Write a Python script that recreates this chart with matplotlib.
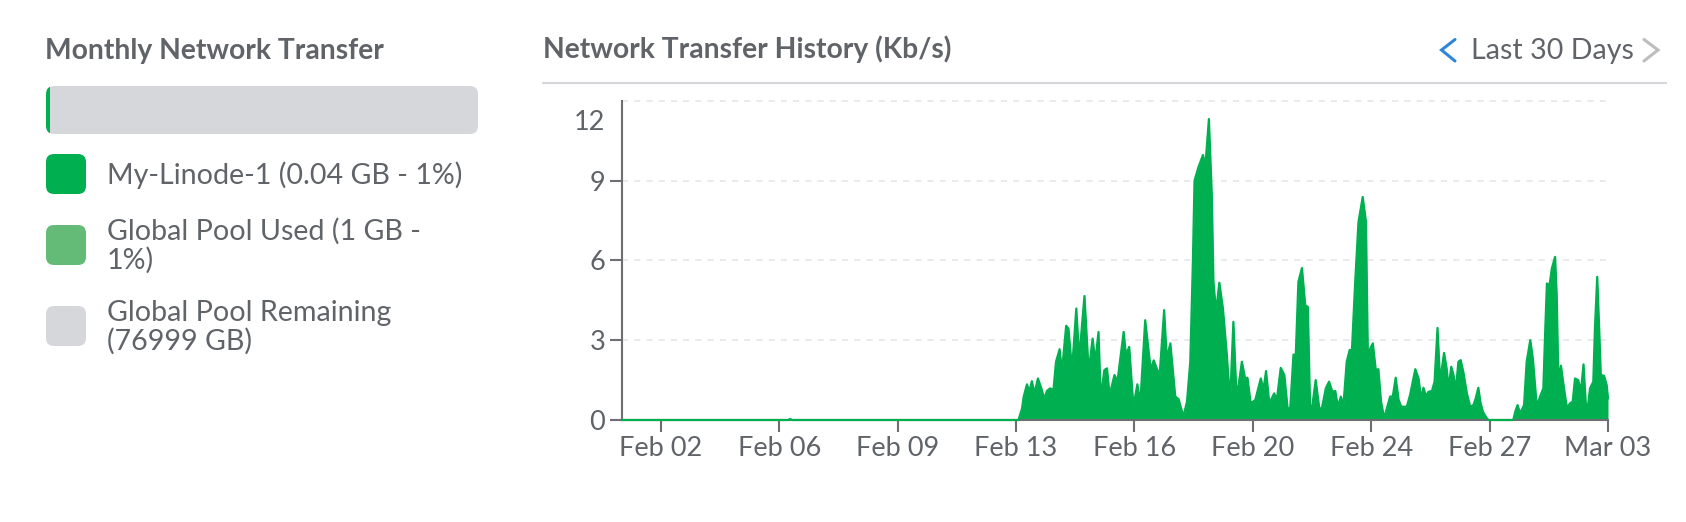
import numpy as np
import matplotlib
matplotlib.use("Agg")
import matplotlib.pyplot as plt
from matplotlib.patches import FancyBboxPatch
from matplotlib.transforms import ScaledTranslation

plt.rcParams['font.family'] = ['Lato', 'DejaVu Sans']

# ---- data -------------------------------------------------------------
# day of month (Feb; Mar 01 = 29) and transfer rate in Kb/s
day_idle = [0.81, 5.90, 5.96, 6.02, 12.95]
kbps_idle = [0, 0, 0.04, 0, 0]

day_a = [13.06, 13.11, 13.21, 13.28, 13.36, 13.44, 13.545, 13.65, 13.74, 13.82,
         13.92, 14.02, 14.10, 14.21, 14.28, 14.41, 14.48, 14.59, 14.72, 14.81,
         14.97, 15.10, 15.22, 15.30, 15.40, 15.47, 15.58, 15.66, 15.74, 15.89,
         15.98, 16.17, 16.24, 16.34, 16.47, 16.59, 16.68, 16.83, 17.00]
kbps_a = [0.44, 0.88, 1.34, 1.06, 1.46, 1.0, 1.56, 1.19, 0.79, 1.09,
          1.19, 1.12, 2.19, 2.66, 1.81, 3.54, 3.44, 1.88, 4.19, 2.31,
          4.66, 1.81, 3.06, 2.19, 3.31, 0.81, 1.88, 1.94, 0.94, 1.69,
          1.44, 3.31, 2.44, 2.75, 0.5, 1.34, 0.63, 3.75, 1.88]

day_b = [17.09, 17.27, 17.41, 17.49, 17.60, 17.75, 17.85, 18.00, 18.11, 18.21,
         18.29, 18.34, 18.46, 18.60, 18.67, 18.78, 18.87, 18.92, 19.00, 19.10,
         19.21, 19.33, 19.43, 19.53, 19.62, 19.69, 19.79, 19.89, 19.96, 20.06,
         20.20, 20.37, 20.45, 20.53, 20.63, 20.78, 20.86, 20.98, 21.09, 21.19,
         21.27, 21.37, 21.44]
kbps_b = [2.24, 1.66, 4.13, 2.31, 2.88, 0.88, 0.79, 0.13, 0.69, 2.19,
          5.94, 9.0, 9.5, 9.96, 9.5, 11.31, 8.44, 5.19, 4.06, 5.16,
          4.19, 2.44, 0.69, 3.69, 1.06, 1.31, 2.19, 1.56, 1.59, 0.63,
          0.75, 1.56, 1.13, 1.84, 0.63, 1.0, 0.75, 1.96, 1.69, 0.44,
          0.44, 2.46, 2.44]

day_c = [21.52, 21.63, 21.73, 21.81, 21.88, 21.95, 22.05, 22.16, 22.24, 22.36,
         22.46, 22.56, 22.65, 22.73, 22.82, 22.90, 23.00, 23.09, 23.16, 23.26,
         23.36, 23.49, 23.59, 23.65, 23.72, 23.80, 23.89, 23.97, 24.05, 24.15,
         24.23, 24.33, 24.41, 24.50, 24.59, 24.67, 24.84, 24.94, 25.10, 25.20,
         25.28, 25.35, 25.43, 25.50, 25.61, 25.69, 25.78, 25.86]
kbps_c = [5.19, 5.71, 4.31, 4.25, 0.38, 0.56, 1.5, 0.44, 0.44, 1.19,
          1.44, 1.06, 1.09, 0.5, 0.88, 0.56, 2.19, 2.63, 2.63, 5.19,
          7.44, 8.38, 7.44, 2.19, 2.69, 2.88, 1.88, 1.91, 0.69, 0.06,
          0.44, 0.88, 0.88, 1.59, 0.75, 0.5, 0.5, 0.94, 1.91, 1.56,
          0.79, 1.21, 0.88, 1.06, 1.09, 1.44, 3.46, 1.44]

day_d = [25.98, 26.06, 26.12, 26.20, 26.27, 26.34, 26.42, 26.49, 26.57, 26.68,
         26.78, 26.88, 26.95, 27.03, 27.10, 27.17, 27.29, 27.34, 28.10, 28.16,
         28.23, 28.31, 28.43, 28.51, 28.62, 28.70, 28.82, 28.92, 29.02, 29.08,
         29.13, 29.21, 29.28, 29.38, 29.43, 29.48, 29.56, 29.64, 29.74, 29.84,
         29.92, 29.99, 30.09, 30.17, 30.25, 30.32, 30.38, 30.45, 30.55, 30.60,
         30.67, 30.73, 30.78, 30.88, 30.96, 31.00]
kbps_d = [2.52, 1.94, 1.19, 2.0, 1.69, 1.13, 2.19, 2.25, 1.81, 1.0,
          0.5, 0.56, 0.81, 1.21, 0.63, 0.31, 0.06, 0, 0, 0.31,
          0.56, 0.25, 0.56, 2.19, 3.0, 2.31, 0.5, 0.88, 1.19, 3.44,
          5.13, 5.06, 5.69, 6.13, 4.69, 1.56, 2.04, 1.31, 0.46, 0.63,
          0.69, 1.56, 1.5, 1.06, 2.09, 0.63, 0.44, 1.19, 1.44, 3.44,
          5.38, 3.44, 1.69, 1.66, 1.31, 0.81]

day = np.array(day_idle + day_a + day_b + day_c + day_d)
kbps = np.array(kbps_idle + kbps_a + kbps_b + kbps_c + kbps_d)

x_labels = ['Feb 02', 'Feb 06', 'Feb 09', 'Feb 13', 'Feb 16',
            'Feb 20', 'Feb 24', 'Feb 27', 'Mar 03']
y_ticks = [0, 3, 6, 9, 12]

legend_labels = ['My-Linode-1 (0.04 GB - 1%)',
                 'Global Pool Used (1 GB -\n1%)',
                 'Global Pool Remaining\n(76999 GB)']
used_pct = 1

# ---- style ------------------------------------------------------------
GREEN = '#00b050'
GREEN_LIGHT = '#63bb77'
GREY_BAR = '#d6d7db'
TEXT = '#606469'
AXIS = '#6e6e73'
GRID = '#e3e4e8'

W, H = 1686, 522
fig = plt.figure(figsize=(W / 100, H / 100), dpi=100)
fig.patch.set_facecolor('white')

# pixel-space overlay for titles and legend
ax0 = fig.add_axes([0, 0, 1, 1])
ax0.set_xlim(0, W)
ax0.set_ylim(H, 0)
ax0.axis('off')

ax0.text(45, 59, 'Monthly Network Transfer', fontsize=20.3, fontweight='bold',
         color=TEXT, va='baseline')
ax0.text(543, 58, 'Network Transfer History (Kb/s)', fontsize=20.3,
         fontweight='bold', color=TEXT, va='baseline')
ax0.text(1471, 59, 'Last 30 Days', fontsize=20.6, color=TEXT, va='baseline')
ax0.plot([1455, 1441.5, 1455], [39.5, 50, 61], color='#2f86d8', lw=2.2,
         solid_capstyle='round', solid_joinstyle='miter')
ax0.plot([1644, 1658, 1644], [39.5, 50, 61], color='#bdbdbd', lw=2.2,
         solid_capstyle='round', solid_joinstyle='miter')
ax0.hlines(82.5, 542, 1667, color=GREY_BAR, lw=1.5)

# legend swatches
sw_colors = [GREEN, GREEN_LIGHT, GREY_BAR]
sw_tops = [154, 225, 306]
for lab, col, top in zip(legend_labels, sw_colors, sw_tops):
    ax0.add_patch(FancyBboxPatch((46, top), 40, 40,
                                 boxstyle='round,pad=0,rounding_size=8',
                                 fc=col, ec='none'))
    ax0.text(107, top + 21, lab, fontsize=20.6, color=TEXT, va='center',
             linespacing=1.08)

# usage bar
axb = fig.add_axes([46 / W, (H - 134) / H, 432 / W, 48 / H])
axb.set_xlim(0, 100)
axb.set_ylim(0, 1)
axb.axis('off')
bg = FancyBboxPatch((0, 0), 100, 1, boxstyle='round,pad=0,rounding_size=1.9',
                    mutation_aspect=4.32 / 48, fc=GREY_BAR, ec='none')
axb.add_patch(bg)
bars = axb.barh(0.5, used_pct, height=1, left=0, color=GREEN)
for b in bars:
    b.set_clip_path(bg)

# ---- history chart ----------------------------------------------------
ax = fig.add_axes([622 / W, (H - 420) / H, (1608 - 622) / W, (420 - 100.7) / H])
ax.fill_between(day, kbps, color=GREEN, lw=0)
ax.plot(day, kbps, color=GREEN, lw=1.6, clip_on=False, zorder=3)
ax.set_xlim(0.81, 31)
ax.set_ylim(0, 12)

for yv in y_ticks[1:]:
    ax.axhline(yv, color=GRID, lw=1.1, ls=(0, (4, 4)), zorder=0, clip_on=False)

for s in ['top', 'right']:
    ax.spines[s].set_visible(False)
for s in ['left', 'bottom']:
    ax.spines[s].set_color(AXIS)
    ax.spines[s].set_linewidth(1.5)

ax.set_xticks(np.linspace(2, 31, len(x_labels)))
ax.set_xticklabels(x_labels)
ax.set_yticks(y_ticks)
ax.set_yticklabels([str(v) for v in y_ticks])
ax.tick_params(axis='both', colors=AXIS, labelcolor=TEXT, labelsize=19.5,
               length=8.5, width=1.5)
ax.tick_params(axis='y', pad=3.5)
ax.tick_params(axis='x', pad=3)

top_tick = ax.yaxis.get_major_ticks()[-1]
top_tick.tick1line.set_visible(False)
top_tick.label1.set_va('top')
top_tick.label1.set_transform(top_tick.label1.get_transform() +
                              ScaledTranslation(0, -0.09, fig.dpi_scale_trans))

fig.savefig('out.png', dpi=100, facecolor='white')
